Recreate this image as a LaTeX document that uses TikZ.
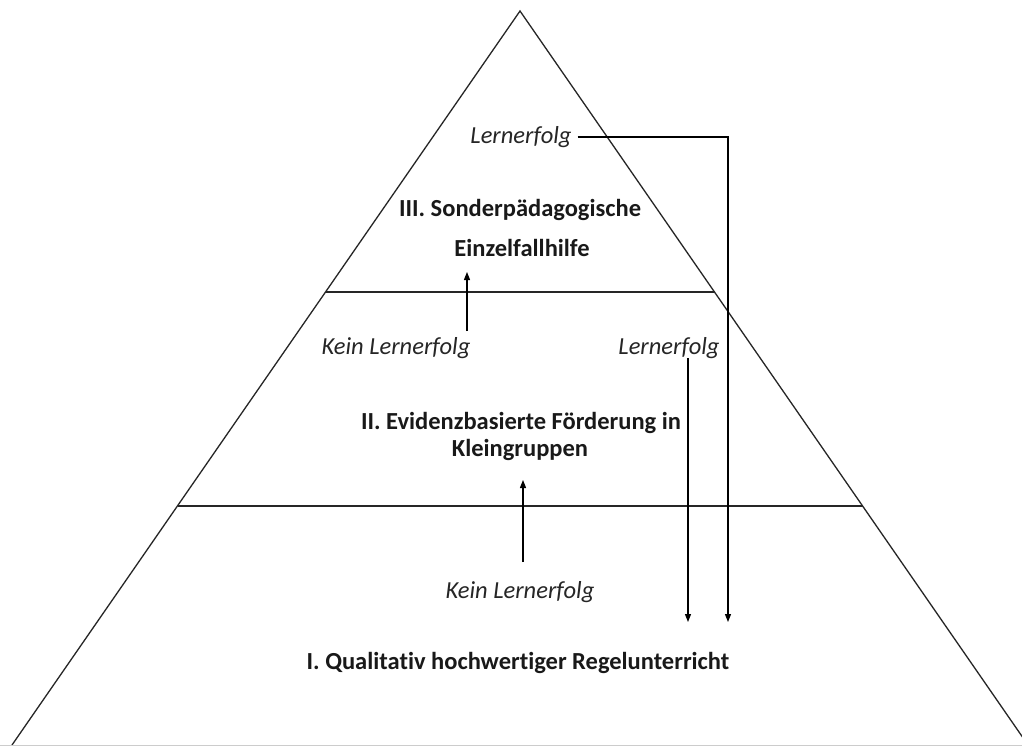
\documentclass[tikz,border=0pt]{standalone}
\usepackage{fontspec}
\setmainfont{Carlito}[Ligatures=NoCommon]
\usetikzlibrary{arrows.meta}
\tikzset{
  edge/.style={draw=black!85, line width=1.3pt},
  arr/.style={draw=black, line width=1.2pt, -{Triangle[length=8pt,width=6pt]}},
  title/.style={font=\fontsize{24.5}{29}\selectfont\bfseries, inner sep=0pt, text=black!90},
  lab/.style={font=\fontsize{24.5}{29}\selectfont\itshape, inner sep=0pt, text=black!85},
}
\begin{document}
\begin{tikzpicture}[x=1pt,y=-1pt]
\clip (0,0) rectangle (1022,746);
\fill[white] (0,0) rectangle (1022,746);
% pyramid
\coordinate (apex) at (520,11);
\coordinate (bl) at (12,745);
\coordinate (br) at (1028,745);
\draw[edge] (bl) -- (apex) -- (br);
\coordinate (h1l) at (325.5,292);
\coordinate (h1r) at (714.5,292);
\coordinate (h2l) at (177.5,506);
\coordinate (h2r) at (862.5,506);
\draw[edge] (h1l) -- (h1r);
\draw[edge] (h2l) -- (h2r);
\draw[black!20, line width=1pt] (0,745) -- (1022,745);
% texts
\node[title] (t3a) at (520,210) {III. Sonderpädagogische};
\node[title] (t3b) at (522,248) {Einzelfallhilfe};
\node[title] (t2a) at (521,423) {II. Evidenzbasierte Förderung in};
\node[title] (t2b) at (520,450) {Kleingruppen};
\node[title] (t1) at (518,663) {I. Qualitativ hochwertiger Regelunterricht};
\node[lab] (l3) at (521,137) {Lernerfolg};
\node[lab] (k3) at (396,348) {Kein Lernerfolg};
\node[lab] (l2) at (669,348) {Lernerfolg};
\node[lab] (k1) at (520,592) {Kein Lernerfolg};
% connectors
\coordinate (c1) at (728,137);
\coordinate (d1) at (728,622);
\coordinate (d2) at (688,622);
\coordinate (s2) at (688,358);
\coordinate (s3) at (467,331);
\coordinate (e3) at (467,272);
\coordinate (s1) at (523,562);
\coordinate (e1) at (523,480);
\draw[arr] ([xshift=6pt]l3.east) -- (c1) -- (d1);
\draw[arr] (s2) -- (d2);
\draw[arr] (s3) -- (e3);
\draw[arr] (s1) -- (e1);
\end{tikzpicture}
\end{document}
